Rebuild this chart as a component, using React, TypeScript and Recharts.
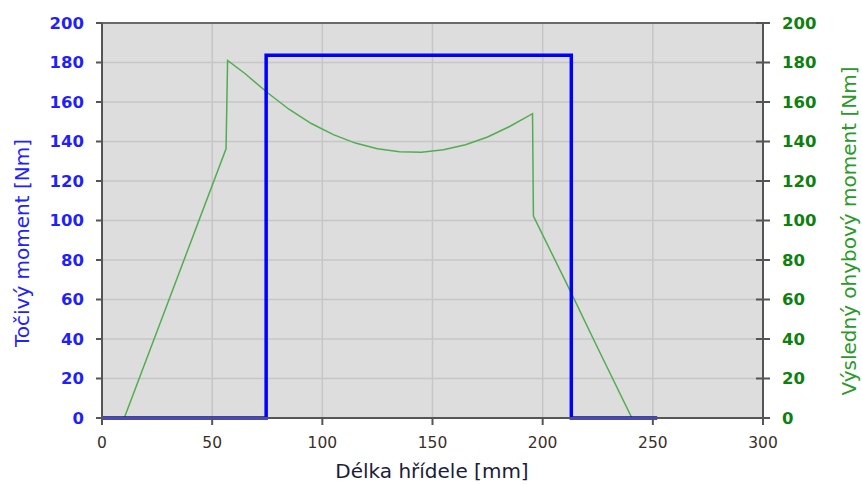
import {
  LineChart,
  Line,
  XAxis,
  YAxis,
  CartesianGrid,
  ReferenceLine,
  Label,
} from "recharts";

// torque (blue) – x in mm, y in Nm
const torqueX = [0, 74.5, 74.5, 213, 213, 252];
const torqueY = [0, 0, 183.7, 183.7, 0, 0];

// resulting bending moment (green)
const bendX = [
  0, 10.1, 56.3, 57, 65, 75, 85, 95, 105, 115, 125, 135, 145, 155, 165, 175,
  185, 195.4, 195.8, 213, 223.6, 240.5, 252,
];
const bendY = [
  0, 0, 136.3, 181, 174.3, 164.8, 156.2, 149.1, 143.5, 139.2, 136.3, 134.8,
  134.6, 135.8, 138.4, 142.3, 147.6, 154.1, 102.3, 63.2, 38.6, 0, 0,
];

const xTicks = [0, 50, 100, 150, 200, 250, 300];
const yTicks = [0, 20, 40, 60, 80, 100, 120, 140, 160, 180, 200];

const torqueData = torqueX.map((x, i) => ({ x, y: torqueY[i] }));
const bendData = bendX.map((x, i) => ({ x, y: bendY[i] }));

const FONT = "DejaVu Sans";
const AXIS = "#555555";

const RightTick = (props: any) => {
  const { x, y, payload } = props;
  return (
    <g>
      <line x1={x - 26} x2={x - 19} y1={y} y2={y} stroke={AXIS} strokeWidth={2} />
      <text
        x={x}
        y={y}
        dy="0.36em"
        textAnchor="start"
        fill="#0e800e"
        fontSize={16.5}
        fontWeight="bold"
        fontFamily={FONT}
      >
        {payload.value}
      </text>
    </g>
  );
};

export default function App() {
  return (
    <div style={{ position: "absolute", left: 0, top: 0 }}>
      <LineChart
        width={862}
        height={484}
        margin={{ top: 23, right: 0, bottom: 0, left: 0 }}
      >
        <CartesianGrid
          yAxisId="left"
          fill="#dddddd"
          stroke="#c6c6c6"
          strokeWidth={1.5}
          verticalValues={xTicks}
          horizontalValues={yTicks}
        />
        <XAxis
          dataKey="x"
          type="number"
          domain={[0, 300]}
          ticks={xTicks}
          height={66}
          tickSize={7}
          tickMargin={12}
          axisLine={{ stroke: AXIS, strokeWidth: 2 }}
          tickLine={{ stroke: AXIS, strokeWidth: 2 }}
          tick={{ fill: "#3a3028", fontSize: 15.5, fontFamily: FONT }}
        >
          <Label
            content={() => (
              <text
                x={432}
                y={478}
                textAnchor="middle"
                fill="#1c1c3c"
                fontSize={20}
                fontFamily={FONT}
              >
                Délka hřídele [mm]
              </text>
            )}
          />
        </XAxis>
        <YAxis
          yAxisId="left"
          orientation="left"
          type="number"
          domain={[0, 200]}
          ticks={yTicks}
          width={102}
          tickSize={6}
          tickMargin={12}
          axisLine={{ stroke: AXIS, strokeWidth: 2 }}
          tickLine={{ stroke: AXIS, strokeWidth: 2 }}
          tick={{ fill: "#1f1fff", fontSize: 16.5, fontWeight: "bold", fontFamily: FONT }}
        >
          <Label
            content={() => (
              <text
                x={29}
                y={243}
                textAnchor="middle"
                fill="#2222ff"
                fontSize={20}
                fontFamily={FONT}
                transform="rotate(-90 29 243)"
              >
                Točivý moment [Nm]
              </text>
            )}
          />
        </YAxis>
        <YAxis
          yAxisId="right"
          orientation="right"
          type="number"
          domain={[0, 200]}
          ticks={yTicks}
          width={99}
          tickSize={7}
          tickMargin={12}
          axisLine={{ stroke: AXIS, strokeWidth: 2 }}
          tickLine={{ stroke: AXIS, strokeWidth: 2 }}
          tick={<RightTick />}
        >
          <Label
            content={() => (
              <text
                x={856}
                y={231}
                textAnchor="middle"
                fill="#2a9a2a"
                fontSize={20}
                fontFamily={FONT}
                transform="rotate(-90 856 231)"
              >
                Výsledný ohybový moment [Nm]
              </text>
            )}
          />
        </YAxis>
        <ReferenceLine yAxisId="left" y={200} stroke="#6a6a6a" strokeWidth={2} />
        <Line
          yAxisId="right"
          data={bendData}
          dataKey="y"
          type="linear"
          stroke="#52ad52"
          strokeWidth={1.5}
          dot={false}
          activeDot={false}
          isAnimationActive={false}
        />
        <Line
          yAxisId="left"
          data={torqueData}
          dataKey="y"
          type="linear"
          stroke="#0000ff"
          strokeWidth={3.5}
          strokeLinejoin="miter"
          dot={false}
          activeDot={false}
          isAnimationActive={false}
        />
      </LineChart>
    </div>
  );
}
